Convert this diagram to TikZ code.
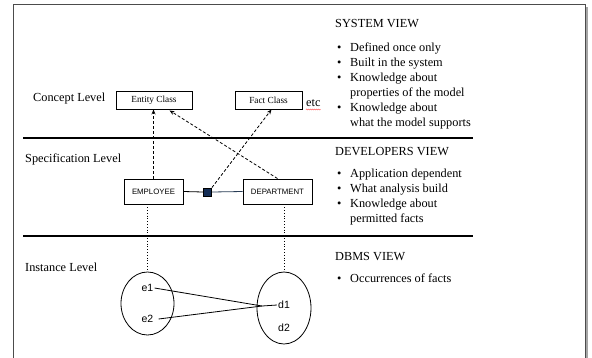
\documentclass[tikz,border=0pt]{standalone}
\usepackage{fontspec}
\setmainfont{Liberation Serif}
\newfontfamily\sansf{Liberation Sans}
\usetikzlibrary{arrows.meta,calc,shapes.geometric,decorations.pathmorphing}

\begin{document}
\begin{tikzpicture}[x=1pt,y=-1pt,
 txt/.style={anchor=base west,font=\fontsize{12.3}{14}\selectfont,inner sep=0},
 cbox/.style={draw,line width=0.9pt,minimum height=18pt,inner sep=0,font=\fontsize{9.3}{10}\selectfont},
 ebox/.style={draw,line width=0.9pt,minimum height=25pt,inner sep=0,font=\sansf\fontsize{7.8}{9}\selectfont},
 inst/.style={draw,ellipse,line width=0.8pt,inner sep=0},
 elem/.style={font=\sansf\fontsize{10.5}{12}\selectfont,inner sep=1pt},
 sepline/.style={line width=2.6pt},
 dasharrow/.style={dash pattern=on 3pt off 2pt,line width=0.8pt,-{Stealth[length=5pt,width=4pt]}},
 dotline/.style={dotted,line width=0.8pt},
 linkline/.style={line width=0.8pt},
]
\useasboundingbox (0,0) rectangle (592,357);

% frame
\draw[black!35,line width=1.6pt] (587,7) -- (587,370);
\draw[black!70,line width=1pt] (13,370) -- (13,4) -- (585,4) -- (585,370);

% separators
\coordinate (s1a) at (23,138); \coordinate (s1b) at (473,138);
\coordinate (s2a) at (23,236); \coordinate (s2b) at (473,236);
\draw[sepline] (s1a) -- (s1b);
\draw[sepline] (s2a) -- (s2b);

% level labels
\node[txt] (concept) at (33,101) {Concept Level};
\node[txt] (spec) at (25,162) {Specification Level};
\node[txt] (inst) at (25,271) {Instance Level};

% right texts
\node[txt] (sv) at (335,27) {SYSTEM VIEW};
\node[txt] (sb1) at (337,51) {•}; \node[txt] (st1) at (350,51) {Defined once only};
\node[txt] (sb2) at (337,66) {•}; \node[txt] (st2) at (350,66) {Built in the system};
\node[txt] (sb3) at (337,81) {•}; \node[txt] (st3) at (350,81) {Knowledge about};
\node[txt] (st3b) at (350,96) {properties of the model};
\node[txt] (sb4) at (337,111) {•}; \node[txt] (st4) at (350,111) {Knowledge about};
\node[txt] (st4b) at (350,126) {what the model supports};

\node[txt] (dv) at (335,155) {DEVELOPERS VIEW};
\node[txt] (db1) at (337,177) {•}; \node[txt] (dt1) at (350,177) {Application dependent};
\node[txt] (db2) at (337,192) {•}; \node[txt] (dt2) at (350,192) {What analysis build};
\node[txt] (db3) at (337,207) {•}; \node[txt] (dt3) at (350,207) {Knowledge about};
\node[txt] (dt3b) at (350,222) {permitted facts};

\node[txt] (bv) at (335,260) {DBMS VIEW};
\node[txt] (bb1) at (337,282) {•}; \node[txt] (bt1) at (350,282) {Occurrences of facts};

% concept boxes
\node[cbox,minimum width=76pt] (entity) at (154,100) {Entity Class};
\node[cbox,minimum width=67pt] (fact) at (268.5,100) {Fact Class};
\node[txt] (etc) at (306,106) {etc};
\draw[red!75,line width=0.5pt,decorate,decoration={snake,amplitude=0.5pt,segment length=2pt}]
  ($(etc.base west)+(0,3.5)$) -- ($(etc.base east)+(0,3.5)$);

% specification boxes
\node[ebox,minimum width=59pt] (employee) at (153.5,191.5) {EMPLOYEE};
\node[ebox,minimum width=69pt] (department) at (277.5,191.5) {DEPARTMENT};
\node[draw=black,fill={rgb,255:red,20;green,45;blue,85},line width=0.8pt,minimum size=8pt,inner sep=0] (sq) at (207.5,192) {};
\draw[linkline] (employee.east) -- (sq.west);
\draw[linkline,draw={rgb,255:red,40;green,60;blue,85}] (sq.east) -- (department.west);

% dashed arrows
\draw[dasharrow] (employee.north) -- (employee.north |- entity.south);
\draw[dasharrow] (department.north) -- ($(entity.south west)+(54,1)$);
\draw[dasharrow] (sq.north east) -- ($(fact.south)+(3,0)$);

% instances
\node[inst,minimum width=53pt,minimum height=63pt] (eE) at (147.5,303.5) {};
\node[inst,minimum width=54pt,minimum height=72pt] (eD) at (284,308) {};
\draw[dotline] (eE.north |- employee.south) -- (eE.north);
\draw[dotline] (eD.north |- department.south) -- (eD.north);

\node[elem] (e1) at (147.5,288) {e1};
\node[elem] (e2) at (147.5,319) {e2};
\node[elem] (d1) at (284,305) {d1};
\node[elem] (d2) at (284,328) {d2};
\coordinate (meet) at (262,306);
\draw[linkline] (e1.east) -- (meet);
\draw[linkline] ($(e2.east)+(4,0)$) -- (meet);
\draw[linkline] (meet) -- (d1.west);
\end{tikzpicture}
\end{document}
